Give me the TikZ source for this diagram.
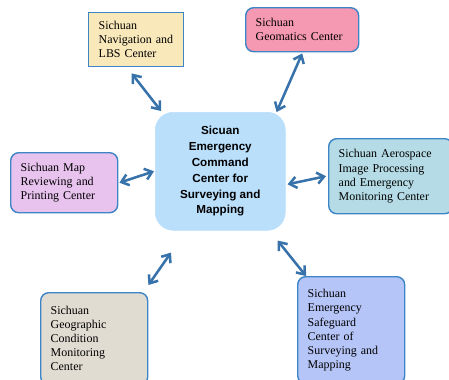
\documentclass[tikz,border=0pt]{standalone}
\usepackage{fontspec}
\setmainfont{Liberation Serif}
\setsansfont{Liberation Sans}
\usetikzlibrary{arrows.meta}
\definecolor{edgeblue}{HTML}{3D85C6}
\definecolor{linkblue}{HTML}{3872AA}
\definecolor{navfill}{HTML}{F9E8BA}
\definecolor{geomfill}{HTML}{F598B2}
\definecolor{hubfill}{HTML}{BADFFB}
\definecolor{mapfill}{HTML}{E8C3EE}
\definecolor{aerofill}{HTML}{B5DCE6}
\definecolor{geogfill}{HTML}{E1DCD2}
\definecolor{safefill}{HTML}{B6C5F8}
\newdimen\px \px=0.25mm
\tikzset{
  unitbox/.style={draw=edgeblue, line width=1pt, rounded corners=8\px,
    anchor=north west, align=left, inner xsep=10\px, inner ysep=0pt,
    font=\fontsize{8.5}{10}\selectfont},
  hubbox/.style={draw=hubfill, fill=hubfill, rounded corners=18\px,
    anchor=north west, align=center, inner sep=0pt,
    font=\fontsize{8.3}{11.3}\selectfont\sffamily\bfseries},
  link/.style={draw=linkblue, line width=1.8pt,
    {Straight Barb[length=5pt,width=8pt]}-{Straight Barb[length=5pt,width=8pt]}}
}
\begin{document}
\begin{tikzpicture}[x=0.25mm, y=-0.25mm]
  \useasboundingbox (0,0) rectangle (449,379);
  % central unit
  \node[hubbox, minimum width=130\px, minimum height=118\px] (hub) at (155,112)
    {Sicuan\\Emergency\\Command\\Center for\\Surveying and\\Mapping};
  % surrounding units
  \node[unitbox, fill=navfill, rounded corners=0pt, minimum width=95\px,
    minimum height=54\px, text width=75\px] (nav) at (88,12)
    {Sichuan\\Navigation and\\LBS Center};
  \node[unitbox, fill=geomfill, minimum width=113\px, minimum height=44\px,
    text width=93\px] (geom) at (245,7)
    {Sichuan\\Geomatics Center};
  \node[unitbox, fill=mapfill, minimum width=107\px, minimum height=60\px,
    text width=87\px] (map) at (10,152)
    {Sichuan Map\\Reviewing and\\Printing Center};
  \node[unitbox, fill=aerofill, minimum width=124\px, minimum height=75\px,
    text width=104\px] (aero) at (328,138)
    {Sichuan Aerospace\\Image Processing\\and Emergency\\Monitoring Center};
  \node[unitbox, fill=geogfill, minimum width=107\px, minimum height=92\px,
    text width=87\px] (geog) at (40,292)
    {Sichuan\\Geographic\\Condition\\Monitoring\\Center};
  \node[unitbox, fill=safefill, minimum width=107\px, minimum height=107\px,
    text width=87\px] (safe) at (297,276)
    {Sichuan\\Emergency\\Safeguard\\Center of\\Surveying and\\Mapping};
  % links to the central unit
  \draw[link] ([xshift=-4.5\px,yshift=-6\px]nav.south) -- ([xshift=6\px,yshift=1\px]hub.north west);
  \draw[link] ([yshift=-1\px]geom.south) -- ([xshift=-9\px]hub.north east);
  \draw[link] ([xshift=1\px]map.east) -- ([xshift=-1\px]hub.west);
  \draw[link] ([xshift=2\px,yshift=-13\px]hub.east) -- ([xshift=-2\px]aero.west);
  \draw[link] ([yshift=7\px]geog.north east) -- ([xshift=16\px,yshift=-22\px]hub.south west);
  \draw[link] ([xshift=-8\px,yshift=-10\px]hub.south east) -- ([xshift=9\px]safe.north west);
\end{tikzpicture}
\end{document}
